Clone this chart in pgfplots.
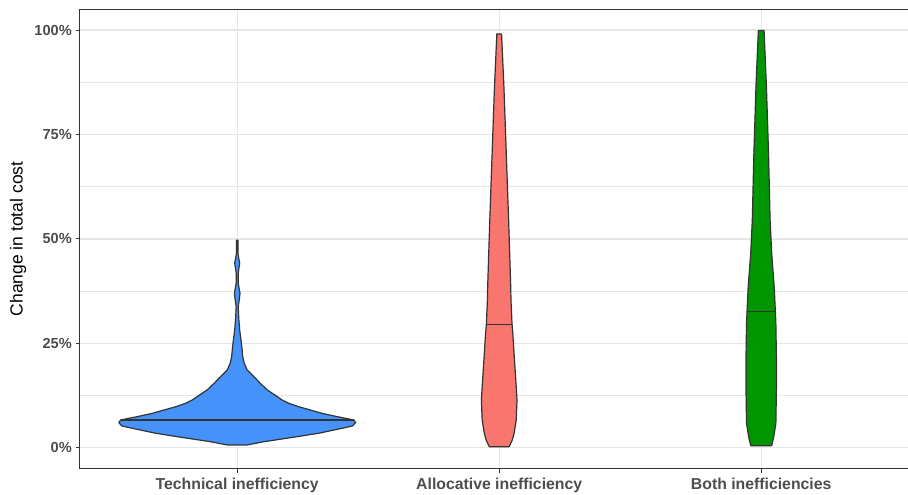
\documentclass[border=0pt]{standalone}
\usepackage{pgfplots}
\pgfplotsset{compat=1.18}
\usepackage{fontspec}
\setmainfont{Liberation Sans}
\definecolor{techblue}{HTML}{4592FA}
\definecolor{allocred}{HTML}{F8766D}
\definecolor{bothgreen}{HTML}{009600}
\definecolor{outl}{HTML}{333333}
\definecolor{gridc}{HTML}{E6E6E6}
\definecolor{tickc}{HTML}{4D4D4D}
\begin{document}
\begin{tikzpicture}
\begin{axis}[
  scale only axis,
  width=838.4pt, height=459.25pt,
  xmin=0.4, xmax=3.6, ymin=-5, ymax=105,
  xtick={1,2,3},
  xticklabels={Technical inefficiency, Allocative inefficiency, Both inefficiencies},
  ytick={0,25,50,75,100},
  yticklabels={0\%,25\%,50\%,75\%,100\%},
  minor ytick={12.5,37.5,62.5,87.5},
  xmajorgrids, ymajorgrids, yminorgrids,
  major grid style={gridc, line width=1.4pt},
  minor grid style={gridc, line width=0.7pt},
  tick pos=left,
  tick align=outside,
  major tick length=4pt,
  minor tick length=0pt,
  tick style={outl, line width=1pt},
  axis line style={outl, line width=1pt},
  x tick label style={font=\fontsize{15.8}{18}\selectfont\bfseries, text=tickc, inner sep=0pt, anchor=north, yshift=-5pt},
  y tick label style={font=\fontsize{14.6}{18}\selectfont\bfseries, text=tickc, inner sep=0pt, anchor=east, xshift=-4pt},
  ylabel={Change in total cost},
  every axis y label/.style={at={(rel axis cs:0,0.5)}, xshift=-62pt, rotate=90, anchor=center, font=\fontsize{17.5}{20}\selectfont},
  every axis plot/.append style={line join=round},
]
% Technical inefficiency
\addplot[draw=outl, line width=1.2pt, fill=techblue] coordinates {
(1.038,0.65) (1.103,1.44) (1.229,2.63) (1.315,3.5) (1.370,4.24) (1.405,4.7) (1.440,5.2) (1.452,6.0) (1.445,6.63)
(1.382,7.43) (1.325,8.2) (1.279,9.03) (1.235,9.8) (1.197,10.63) (1.172,11.4) (1.153,12.22) (1.115,13.82) (1.088,15.42)
(1.064,17.0) (1.038,18.6) (1.027,20.2) (1.021,21.8) (1.019,23.4) (1.0145,25.8) (1.0095,28.2)
(1.006,31.0) (1.004,33.8) (1.008,35.5) (1.0107,37.0) (1.007,38.3) (1.004,39.4) (1.004,41.8)
(1.007,43.2) (1.0095,44.2) (1.006,45.3) (1.003,46.6) (1.003,49.7)
(0.997,49.7) (0.997,46.6) (0.994,45.3) (0.9905,44.2) (0.993,43.2) (0.996,41.8) (0.996,39.4)
(0.993,38.3) (0.9893,37.0) (0.992,35.5) (0.996,33.8) (0.994,31.0) (0.9905,28.2) (0.9855,25.8)
(0.981,23.4) (0.979,21.8) (0.973,20.2) (0.962,18.6) (0.936,17.0) (0.912,15.42) (0.885,13.82)
(0.847,12.22) (0.828,11.4) (0.803,10.63) (0.765,9.8) (0.721,9.03) (0.675,8.2) (0.618,7.43) (0.555,6.63) (0.548,6.0)
(0.560,5.2) (0.595,4.7) (0.630,4.24) (0.685,3.5) (0.771,2.63) (0.897,1.44) (0.962,0.65)
} -- cycle;
\addplot[draw=outl, line width=1.1pt] coordinates {(0.555,6.63) (1.445,6.63)};
% Allocative inefficiency
\addplot[draw=outl, line width=1.2pt, fill=allocred] coordinates {
(2.038,0.24) (2.050,1.84) (2.057,3.45) (2.065,6.63) (2.068,11.4) (2.065,14.6) (2.060,19.4)
(2.056,23.4) (2.052,27.4) (2.049,29.56) (2.045,35.4) (2.044,38.6) (2.036,54.5) (2.027,70.5)
(2.018,86.5) (2.009,99.1)
(1.991,99.1) (1.982,86.5) (1.973,70.5) (1.964,54.5) (1.956,38.6) (1.955,35.4) (1.951,29.56)
(1.948,27.4) (1.944,23.4) (1.940,19.4) (1.935,14.6) (1.932,11.4) (1.935,6.63) (1.943,3.45)
(1.950,1.84) (1.962,0.24)
} -- cycle;
\addplot[draw=outl, line width=1.1pt] coordinates {(1.951,29.56) (2.049,29.56)};
% Both inefficiencies
\addplot[draw=outl, line width=1.2pt, fill=bothgreen] coordinates {
(3.040,0.48) (3.048,2.63) (3.056,5.84) (3.058,13.8) (3.058,21.8) (3.056,29.8) (3.054,32.7)
(3.050,38.2) (3.040,46.6) (3.034,54.5) (3.028,70.5) (3.020,86.5) (3.011,99.9)
(2.989,99.9) (2.980,86.5) (2.972,70.5) (2.966,54.5) (2.960,46.6) (2.950,38.2) (2.946,32.7)
(2.944,29.8) (2.942,21.8) (2.942,13.8) (2.944,5.84) (2.952,2.63) (2.960,0.48)
} -- cycle;
\addplot[draw=outl, line width=1.1pt] coordinates {(2.946,32.7) (3.054,32.7)};
\end{axis}
\pgfresetboundingbox
\path[use as bounding box] ([shift={(-80pt,-25.5pt)}]current axis.south west) rectangle ([shift={(828pt,9.3pt)}]current axis.north west);
\end{tikzpicture}
\end{document}
